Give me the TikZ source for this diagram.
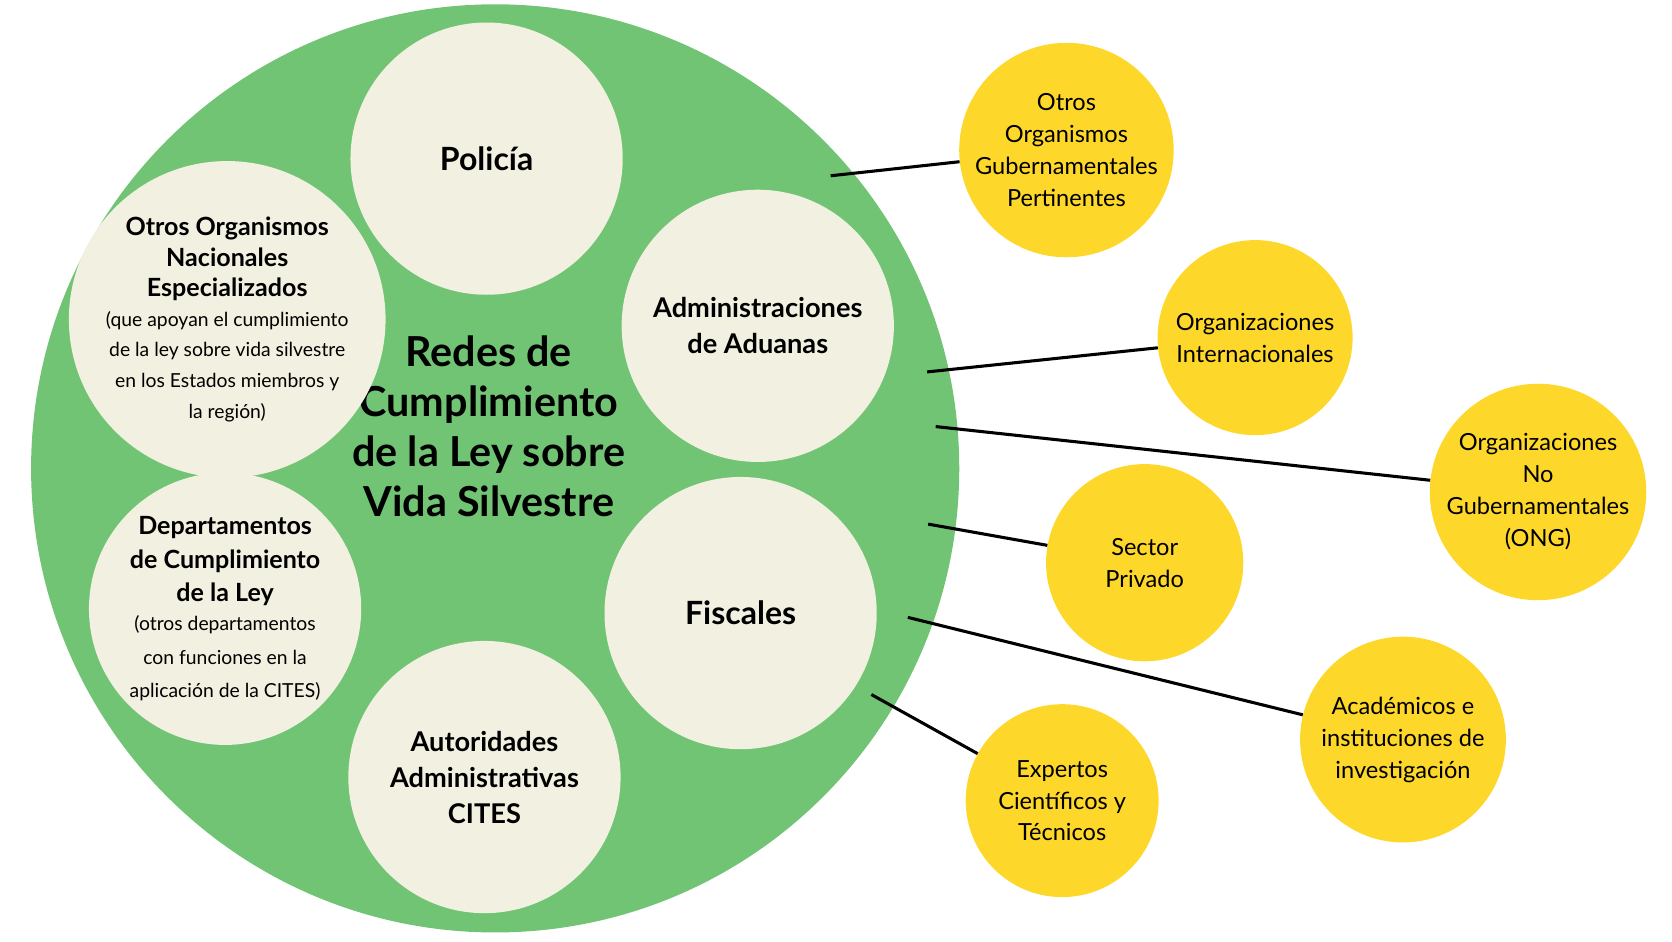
\documentclass[tikz,border=0pt]{standalone}
\usepackage{fontspec}
\setmainfont{Lato}
\usepackage{tikz}
\usetikzlibrary{positioning}
\definecolor{leafgreen}{RGB}{113,196,116}
\definecolor{cream}{RGB}{242,240,225}
\definecolor{sun}{RGB}{253,215,41}
\newcommand{\notefont}{\normalfont\fontsize{14.5}{19}\selectfont}

\begin{document}
\begin{tikzpicture}[x=0.804pt, y=-0.804pt,
    agency/.style={circle, fill=cream, minimum size=254*0.804pt, inner sep=0pt, align=center, font=\bfseries\fontsize{20.4}{27}\selectfont},
    partner/.style={circle, fill=sun, inner sep=0pt, align=center, font=\fontsize{17.7}{24}\selectfont},
    link/.style={line width=2.3pt, black}
]
    \useasboundingbox (0,0) rectangle (1560,878);
    \node[circle, fill=leafgreen, minimum size=866*0.804pt, inner sep=0pt] (net) at (462,437) {};
    \node[font=\bfseries\fontsize{31}{37.5}\selectfont, align=center] (title) at (456,398) {Redes de\\Cumplimiento\\de la Ley sobre\\Vida Silvestre};

    \node[agency, font=\bfseries\fontsize{24}{30}\selectfont] (police) at (454,148) {Policía};
    \node[agency] (customs) at (707,304) {Administraciones\\de Aduanas};
    \node[agency, font=\bfseries\fontsize{18.8}{23}\selectfont] (national) at (212,298) {Otros Organismos\\Nacionales\\Especializados\\[-1pt]{\notefont (que apoyan el cumplimiento}\\{\notefont de la ley sobre vida silvestre}\\{\notefont en los Estados miembros y}\\{\notefont la región)}};
    \node[agency, font=\bfseries\fontsize{18.8}{25}\selectfont] (depts) at (210,568) {Departamentos\\de Cumplimiento\\de la Ley\\[-3pt]{\notefont (otros departamentos}\\{\notefont con funciones en la}\\{\notefont aplicación de la CITES)}};
    \node[agency, font=\bfseries\fontsize{24}{30}\selectfont] (fiscal) at (691,572) {Fiscales};
    \node[agency] (cites) at (452,725) {Autoridades\\Administrativas\\CITES};

    \node[partner, minimum size=174*0.804pt] (gov) at (995,140) {Otros\\Organismos\\Gubernamentales\\Pertinentes};
    \node[partner, minimum size=182*0.804pt] (intl) at (1171,315) {Organizaciones\\Internacionales};
    \node[partner, minimum size=188*0.804pt] (ngo) at (1435,459) {Organizaciones\\No\\Gubernamentales\\(ONG)};
    \node[partner, minimum size=184*0.804pt] (private) at (1068,525) {Sector\\Privado};
    \node[partner, minimum size=192*0.804pt] (academia) at (1309,690) {Académicos e\\instituciones de\\investigación};
    \node[partner, minimum size=180*0.804pt] (experts) at (991,747) {Expertos\\Científicos y\\Técnicos};

    % free ends on the green circle
    \coordinate (e1) at (775,164);
    \coordinate (e2) at (865,347);
    \coordinate (e3) at (873,398);
    \coordinate (e4) at (866,489);
    \coordinate (e5) at (847,576);
    \coordinate (e6) at (813,648);
    \draw[link] (e1) -- (gov);
    \draw[link] (e2) -- (intl);
    \draw[link] (e3) -- (ngo);
    \draw[link] (e4) -- (private);
    \draw[link] (e5) -- (academia);
    \draw[link] (e6) -- (experts);
\end{tikzpicture}
\end{document}
